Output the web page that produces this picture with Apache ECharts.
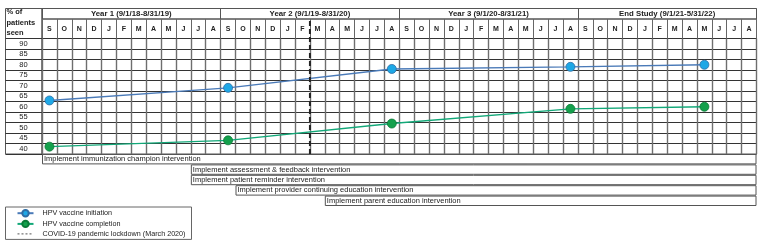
<!DOCTYPE html>
<html>
<head>
<meta charset="utf-8">
<script src="https://cdn.jsdelivr.net/npm/echarts@6/dist/echarts.min.js"></script>
<style>
  html, body { margin: 0; padding: 0; background: #fff; }
  #chart { width: 762px; height: 247px; }
</style>
</head>
<body>
<div id="chart"></div>
<script>
// month letters, Sep 2018 .. Aug 2022
const monthLetters = ['S','O','N','D','J','F','M','A','M','J','J','A',
                      'S','O','N','D','J','F','M','A','M','J','J','A',
                      'S','O','N','D','J','F','M','A','M','J','J','A',
                      'S','O','N','D','J','F','M','A','M','J','J','A'];
const yearLabels = ['Year 1 (9/1/18-8/31/19)', 'Year 2 (9/1/19-8/31/20)',
                    'Year 3 (9/1/20-8/31/21)', 'End Study (9/1/21-5/31/22)'];
const rowLabels = ['40','45','50','55','60','65','70','75','80','85','90'];

// measurement months (index from Sep 2018) and percentages
const pointMonths = [0, 12, 23, 35, 44];
const initiation = [63, 69, 78, 79, 80];
const completion = [41, 44, 52, 59, 60];

const lockdownMonth = 18; // start of March 2020

const interventions = ['Implement immunization champion intervention',
                       'Implement assessment & feedback intervention',
                       'Implement patient reminder intervention',
                       'Implement provider continuing education intervention',
                       'Implement parent education intervention'];
const interventionStart = [0, 10, 10, 13, 19];
const studyEnd = 48;

const FONT = 'Liberation Sans';
const FS = 7.5;
const monthIds = monthLetters.map((m, i) => m + i);

let myChart = echarts.init(document.getElementById('chart'));

const hidden = (grid, extra) => Object.assign({ gridIndex: grid, show: false, type: 'value' }, extra || {});

myChart.setOption({
  animation: false,
  textStyle: { fontFamily: FONT },
  title: {
    text: '% of\npatients\nseen',
    left: 6.5, top: 7, padding: 0,
    textStyle: { fontSize: FS, fontWeight: 'bold', color: '#222', lineHeight: 10.5, fontFamily: FONT }
  },
  legend: {
    orient: 'vertical',
    left: 5.5, top: 207,
    padding: [2, 6, 2, 11],
    itemGap: 2.3,
    itemWidth: 16, itemHeight: 8,
    borderColor: '#666', borderWidth: 1,
    textStyle: { fontSize: 7.2, color: '#222', fontFamily: FONT, padding: [0, 0, 0, 4] },
    data: ['HPV vaccine initiation', 'HPV vaccine completion',
           { name: 'COVID-19 pandemic lockdown (March 2020)',
             itemStyle: { opacity: 0 },
             lineStyle: { width: 1, color: '#555', type: [2, 2] } }]
  },
  grid: [
    { left: 42, top: 38.5, width: 714.5, height: 115.5, show: true, borderColor: '#555', borderWidth: 1 }, // main
    { left: 5.5, top: 38.5, width: 36.5, height: 115.5, show: true, borderColor: '#555', borderWidth: 1 }, // row labels
    { left: 42, top: 19, width: 714.5, height: 19.5, show: true, borderColor: '#555', borderWidth: 1 },   // months
    { left: 42, top: 8.5, width: 714.5, height: 10.5, show: true, borderColor: '#555', borderWidth: 1 },  // years
    { left: 5.5, top: 8.5, width: 36.5, height: 30, show: true, borderColor: '#555', borderWidth: 1 },    // corner
    { left: 42, top: 154, width: 714.5, height: 52 },                                                     // interventions
    { left: 42, top: 19, width: 714.5, height: 135 }                                                      // lockdown overlay
  ],
  xAxis: [
    { gridIndex: 0, type: 'category', data: monthIds, boundaryGap: true,
      axisLine: { show: false }, axisTick: { show: false }, axisLabel: { show: false },
      splitLine: { show: true, interval: 0, lineStyle: { color: '#6e6e6e', width: 1.4 } } },
    hidden(1),
    { gridIndex: 2, type: 'category', data: monthIds, boundaryGap: true, position: 'top',
      axisLine: { show: false }, axisTick: { show: false },
      axisLabel: { inside: true, interval: 0, margin: 10, verticalAlign: 'middle',
                   fontSize: 7, fontWeight: 'bold', color: '#222',
                   formatter: (v, i) => monthLetters[i] },
      splitLine: { show: true, interval: 0, lineStyle: { color: '#666', width: 1 } } },
    { gridIndex: 3, type: 'category', data: yearLabels, boundaryGap: true, position: 'top',
      axisLine: { show: false }, axisTick: { show: false },
      axisLabel: { inside: true, interval: 0, margin: 5.5, verticalAlign: 'middle',
                   fontSize: 7.8, fontWeight: 'bold', color: '#222' },
      splitLine: { show: true, interval: 0, lineStyle: { color: '#555', width: 1 } } },
    hidden(4),
    hidden(5, { min: 0, max: studyEnd }),
    hidden(6, { min: 0, max: studyEnd })
  ],
  yAxis: [
    { gridIndex: 0, type: 'category', data: rowLabels, boundaryGap: true,
      axisLine: { show: false }, axisTick: { show: false }, axisLabel: { show: false },
      splitLine: { show: true, interval: 0, lineStyle: { color: '#333', width: 1 } } },
    { gridIndex: 0, type: 'value', show: false, min: 37.5, max: 92.5 },
    { gridIndex: 1, type: 'category', data: rowLabels, boundaryGap: true,
      axisLine: { show: false }, axisTick: { show: false },
      axisLabel: { inside: true, interval: 0, margin: 18, align: 'center', fontSize: FS, color: '#222' },
      splitLine: { show: true, interval: 0, lineStyle: { color: '#333', width: 1 } } },
    hidden(2),
    hidden(3),
    hidden(4),
    { gridIndex: 5, type: 'category', data: interventions, inverse: true, show: false },
    hidden(6, { min: 0, max: 1 })
  ],
  series: [
    { name: 'offset', type: 'bar', stack: 'iv', xAxisIndex: 5, yAxisIndex: 6,
      barCategoryGap: '0%', silent: true,
      itemStyle: { color: 'transparent' }, data: interventionStart },
    { name: 'interventions', type: 'bar', stack: 'iv', xAxisIndex: 5, yAxisIndex: 6,
      barCategoryGap: '0%', silent: true,
      itemStyle: { color: '#fff', borderColor: '#555', borderWidth: 1 },
      label: { show: true, position: 'insideLeft', distance: 2, fontSize: FS, color: '#222',
               formatter: p => p.name },
      data: interventionStart.map(s => studyEnd - s) },
    { name: 'HPV vaccine initiation', type: 'line', xAxisIndex: 0, yAxisIndex: 1,
      symbol: 'circle', symbolSize: 9,
      lineStyle: { color: '#4a7ab8', width: 1.4 },
      itemStyle: { color: '#1ea8e6', borderColor: '#2e6da4', borderWidth: 0.8 },
      data: pointMonths.map((m, i) => [m, initiation[i]]) },
    { name: 'HPV vaccine completion', type: 'line', xAxisIndex: 0, yAxisIndex: 1,
      symbol: 'circle', symbolSize: 9,
      lineStyle: { color: '#12a878', width: 1.4 },
      itemStyle: { color: '#14a04c', borderColor: '#0b7a37', borderWidth: 0.8 },
      data: pointMonths.map((m, i) => [m, completion[i]]) },
    { name: 'COVID-19 pandemic lockdown (March 2020)', type: 'line', xAxisIndex: 6, yAxisIndex: 7,
      symbol: 'none', itemStyle: { color: '#222' },
      lineStyle: { color: '#222', width: 2, type: [5, 3] },
      data: [[lockdownMonth, 0], [lockdownMonth, 1]] }
  ]
});
</script>
</body>
</html>
